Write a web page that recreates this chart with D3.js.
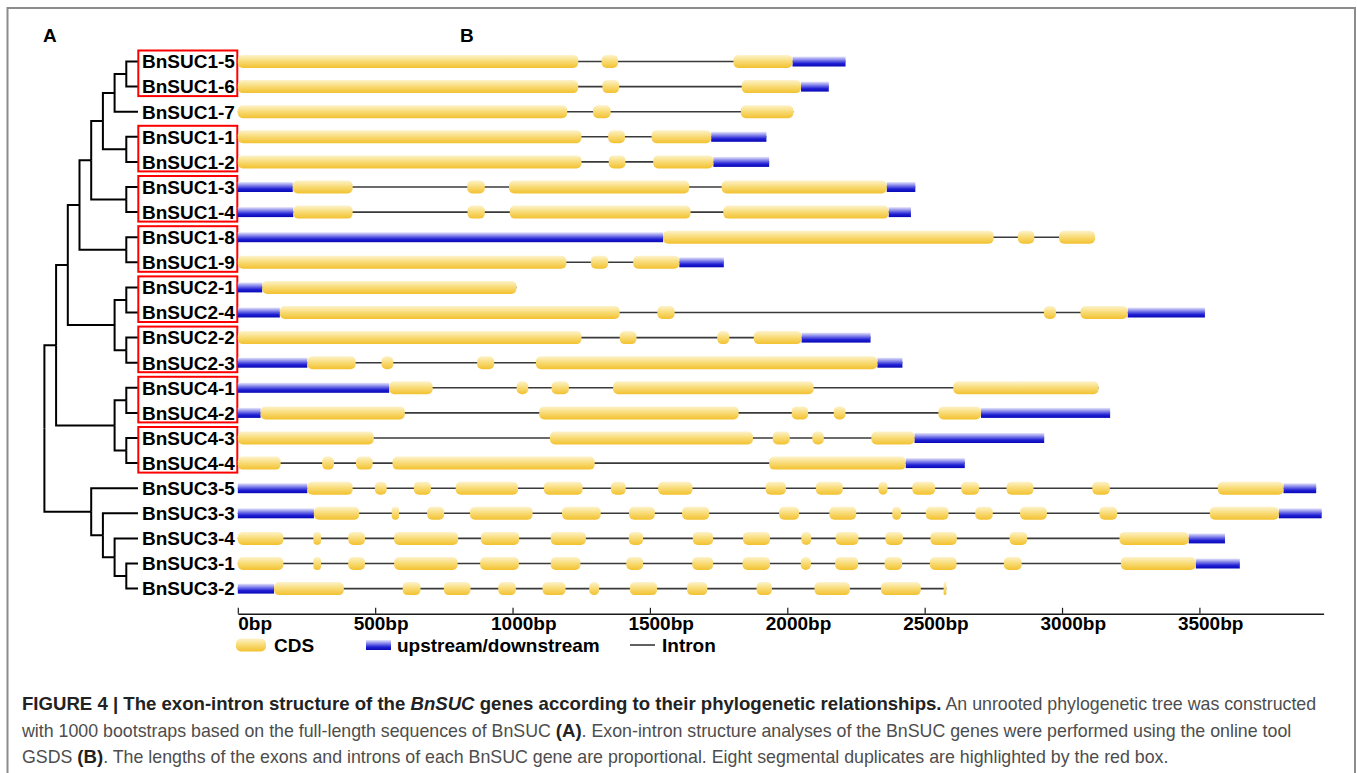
<!DOCTYPE html>
<html>
<head>
<meta charset="utf-8">
<script src="https://cdn.jsdelivr.net/npm/d3@7"></script>
<style>
body{margin:0;background:#fff;}
svg{display:block;font-family:"Liberation Sans",Arial,Helvetica,sans-serif;}
text{white-space:pre;}
</style>
</head>
<body>
<svg id="chart" width="1357" height="773"></svg>
<script>
const genes = ["BnSUC1-5","BnSUC1-6","BnSUC1-7","BnSUC1-1","BnSUC1-2","BnSUC1-3","BnSUC1-4","BnSUC1-8","BnSUC1-9",
  "BnSUC2-1","BnSUC2-4","BnSUC2-2","BnSUC2-3","BnSUC4-1","BnSUC4-2","BnSUC4-3","BnSUC4-4",
  "BnSUC3-5","BnSUC3-3","BnSUC3-4","BnSUC3-1","BnSUC3-2"];

const groupOne = [[[[["BnSUC1-5","BnSUC1-6"],"BnSUC1-7"],["BnSUC1-1","BnSUC1-2"]],["BnSUC1-3","BnSUC1-4"]],["BnSUC1-8","BnSUC1-9"]];
const groupTwo = [["BnSUC2-1","BnSUC2-4"],["BnSUC2-2","BnSUC2-3"]];
const groupFour = [["BnSUC4-1","BnSUC4-2"],["BnSUC4-3","BnSUC4-4"]];
const groupThree = ["BnSUC3-5",["BnSUC3-3",["BnSUC3-4",["BnSUC3-1","BnSUC3-2"]]]];
const tree = [[[groupOne, groupTwo], groupFour], groupThree];

const boxedPairs = [["BnSUC1-5","BnSUC1-6"],["BnSUC1-1","BnSUC1-2"],["BnSUC1-3","BnSUC1-4"],["BnSUC1-8","BnSUC1-9"],
  ["BnSUC2-1","BnSUC2-4"],["BnSUC2-2","BnSUC2-3"],["BnSUC4-1","BnSUC4-2"],["BnSUC4-3","BnSUC4-4"]];

// exon (CDS) ranges in bp, same order as genes
const cdsParts = [
  [[0,1239],[1324,1384],[1804,2019]],
  [[0,1239],[1327,1388],[1834,2050]],
  [[0,1199],[1293,1357],[1831,2022]],
  [[0,1251],[1348,1409],[1506,1723]],
  [[0,1251],[1350,1411],[1512,1731]],
  [[200,418],[835,899],[987,1643],[1761,2362]],
  [[202,418],[836,899],[990,1648],[1767,2369]],
  [[1548,2751],[2839,2899],[2989,3120]],
  [[0,1196],[1285,1348],[1439,1607]],
  [[89,1014]],
  [[153,1390],[1527,1590],[2934,2978],[3067,3239]],
  [[0,1251],[1390,1451],[1745,1789],[1878,2052]],
  [[253,429],[523,566],[871,933],[1085,2328]],
  [[551,709],[1015,1057],[1142,1205],[1366,2096],[2604,3133]],
  [[83,608],[1097,1823],[2016,2076],[2169,2212],[2550,2705]],
  [[0,495],[1136,1875],[1947,2009],[2091,2133],[2306,2463]],
  [[0,156],[307,350],[430,491],[563,1299],[1934,2431]],
  [[253,418],[499,542],[641,703],[793,1020],[1114,1255],[1358,1412],[1530,1655],[1921,1995],[2104,2202],[2332,2365],[2455,2538],[2633,2698],[2798,2896],[3110,3174],[3567,3806]],
  [[277,442],[560,587],[689,751],[845,1073],[1180,1321],[1424,1518],[1617,1716],[1970,2043],[2153,2251],[2382,2414],[2504,2587],[2684,2748],[2847,2945],[3136,3201],[3538,3789]],
  [[0,166],[275,303],[402,463],[569,802],[885,1024],[1139,1267],[1423,1475],[1656,1730],[1839,1937],[2051,2087],[2176,2259],[2357,2421],[2521,2617],[2809,2873],[3209,3461]],
  [[0,166],[275,303],[402,463],[569,800],[882,1023],[1139,1247],[1414,1475],[1654,1730],[1837,1937],[2049,2086],[2174,2258],[2354,2418],[2519,2616],[2788,2853],[3214,3487]],
  [[132,386],[600,665],[750,847],[948,1012],[1109,1193],[1279,1315],[1427,1526],[1635,1709],[1888,1944],[2099,2228],[2341,2486],[2569,2579]]
];

// upstream/downstream ranges in bp
const utrParts = [
  [[2019,2212]],
  [[2050,2151]],
  [],
  [[1723,1924]],
  [[1731,1934]],
  [[0,200],[2362,2466]],
  [[0,202],[2369,2450]],
  [[0,1548]],
  [[1607,1769]],
  [[0,89]],
  [[0,153],[3239,3520]],
  [[2052,2303]],
  [[0,253],[2328,2419]],
  [[0,551]],
  [[0,83],[2705,3175]],
  [[2463,2935]],
  [[2431,2646]],
  [[0,253],[3806,3925]],
  [[0,277],[3789,3945]],
  [[3461,3593]],
  [[3487,3647]],
  [[0,132]]
];

const tickValues = [0,500,1000,1500,2000,2500,3000,3500];
const axisMax = 3952;
const legendLabels = ["CDS","upstream/downstream","Intron"];
const panelLabels = ["A","B"];

const captionLines = [
  [["b","FIGURE 4 | The exon-intron structure of the "],["bi","BnSUC"],["b"," genes according to their phylogenetic relationships."],["r"," An unrooted phylogenetic tree was constructed"]],
  [["r","with 1000 bootstraps based on the full-length sequences of BnSUC "],["b","(A)"],["r",". Exon-intron structure analyses of the BnSUC genes were performed using the online tool"]],
  [["r","GSDS "],["b","(B)"],["r",". The lengths of the exons and introns of each BnSUC gene are proportional. Eight segmental duplicates are highlighted by the red box."]]
];

let svg = d3.select("#chart");
let defs = svg.append("defs");

function gradient(id, stops){
    let g = defs.append("linearGradient").attr("id", id)
        .attr("x1",0).attr("y1",0).attr("x2",0).attr("y2",1);
    stops.forEach(s => g.append("stop").attr("offset", s[0]).attr("stop-color", s[1]));
}
gradient("cdsFill", [["0%","#fdf3cc"],["45%","#f9dd7c"],["100%","#f2c12f"]]);
gradient("utrFill", [["0%","#e6e6fa"],["40%","#7474e8"],["70%","#2020d4"],["100%","#0808b6"]]);

// frame
svg.append("path")
    .attr("d","M7.5,800V8H1355V800")
    .attr("fill","none").attr("stroke","#8c8c8c").attr("stroke-width",2);

svg.selectAll("text.panel").data(panelLabels).join("text")
    .attr("class","panel")
    .attr("x", (d,i) => i == 0 ? 43 : 460)
    .attr("y", 41.7)
    .attr("font-size",19).attr("font-weight","bold")
    .text(d => d);

let x = d3.scaleLinear().domain([0, axisMax]).range([237.8, 1323.6]);
let y = d3.scalePoint().domain(genes).range([61.5, 588.6]);

// tree
let root = d3.hierarchy(tree, d => Array.isArray(d) ? d : null);
let tx = d3.scaleLinear().domain([root.height, 0]).range([44.4, 138]);
root.eachAfter(n => {
    n.px = tx(n.height);
    n.py = n.children ? d3.mean(n.children, c => c.py) : y(n.data);
});

svg.append("g")
    .attr("fill","none").attr("stroke","#000").attr("stroke-width",2)
    .selectAll("path")
    .data(root.descendants().filter(n => n.parent))
    .join("path")
    .attr("d", n => `M${n.parent.px},${n.parent.py}V${n.py}H${n.px}`);

svg.append("g").selectAll("rect")
    .data(boxedPairs)
    .join("rect")
    .attr("x",138.3)
    .attr("y", p => y(p[0]) - 11)
    .attr("width",99)
    .attr("height", p => y(p[1]) - y(p[0]) + 20.5)
    .attr("fill","none").attr("stroke","#ff0000").attr("stroke-width",2);

svg.append("g").selectAll("text")
    .data(genes)
    .join("text")
    .attr("x",142)
    .attr("y", d => y(d) + 6.8)
    .attr("font-size",19).attr("font-weight","bold").attr("fill","#000")
    .text(d => d);

// gene structures
let rows = svg.append("g").selectAll("g")
    .data(genes)
    .join("g")
    .attr("transform", d => `translate(0,${y(d)})`);

rows.append("line")
    .attr("x1", (d,i) => x(d3.min(cdsParts[i].concat(utrParts[i]), s => s[0])))
    .attr("x2", (d,i) => x(d3.max(cdsParts[i].concat(utrParts[i]), s => s[1])))
    .attr("stroke","#3a3a3a").attr("stroke-width",1.6);

rows.selectAll("rect.utr")
    .data((d,i) => utrParts[i])
    .join("rect")
    .attr("class","utr")
    .attr("x", s => x(s[0]))
    .attr("width", s => x(s[1]) - x(s[0]))
    .attr("y",-5).attr("height",10)
    .attr("fill","url(#utrFill)");

rows.selectAll("rect.cds")
    .data((d,i) => cdsParts[i])
    .join("rect")
    .attr("class","cds")
    .attr("x", s => x(s[0]))
    .attr("width", s => x(s[1]) - x(s[0]))
    .attr("y",-6.5).attr("height",13)
    .attr("rx", s => Math.min(5, (x(s[1]) - x(s[0])) / 2))
    .attr("fill","url(#cdsFill)");

// axis
let axis = d3.axisBottom(x)
    .tickValues(tickValues)
    .tickFormat(d => d + "bp")
    .tickSizeInner(-6).tickSizeOuter(0).tickPadding(3);

let ag = svg.append("g").attr("transform","translate(0,613.8)").call(axis);
ag.attr("font-family", null).attr("font-size", null);
ag.select(".domain").attr("stroke","#1a1a1a").attr("stroke-width",1.5);
ag.selectAll(".tick line").attr("stroke","#1a1a1a").attr("stroke-width",1.2);
ag.selectAll(".tick text")
    .attr("text-anchor","start")
    .attr("x", d => d == 0 ? 0 : -22)
    .attr("font-size",19).attr("font-weight","bold").attr("fill","#000");

// legend
let lg = svg.append("g").attr("transform","translate(0,645)");
lg.append("rect").attr("x",236).attr("y",-6.5).attr("width",30).attr("height",13).attr("rx",5).attr("fill","url(#cdsFill)");
lg.append("rect").attr("x",366).attr("y",-5).attr("width",25).attr("height",10).attr("fill","url(#utrFill)");
lg.append("line").attr("x1",630).attr("x2",655).attr("stroke","#3a3a3a").attr("stroke-width",1.6);
lg.selectAll("text").data(legendLabels).join("text")
    .attr("x", (d,i) => [274,397,662][i])
    .attr("y",6.8)
    .attr("font-size",19).attr("font-weight","bold").attr("fill","#000")
    .text(d => d);

// caption
let cap = svg.append("g");
captionLines.forEach((line, i) => {
    let t = cap.append("text").attr("x",22).attr("y",710 + i * 26.5);
    line.forEach(part => {
        t.append("tspan")
            .attr("font-size", part[0] == "r" ? 17.8 : 18.6)
            .attr("font-weight", part[0] == "r" ? "normal" : "bold")
            .attr("font-style", part[0] == "bi" ? "italic" : "normal")
            .attr("fill", part[0] == "r" ? "#4d4d4d" : "#222")
            .text(part[1]);
    });
});
</script>
</body>
</html>
